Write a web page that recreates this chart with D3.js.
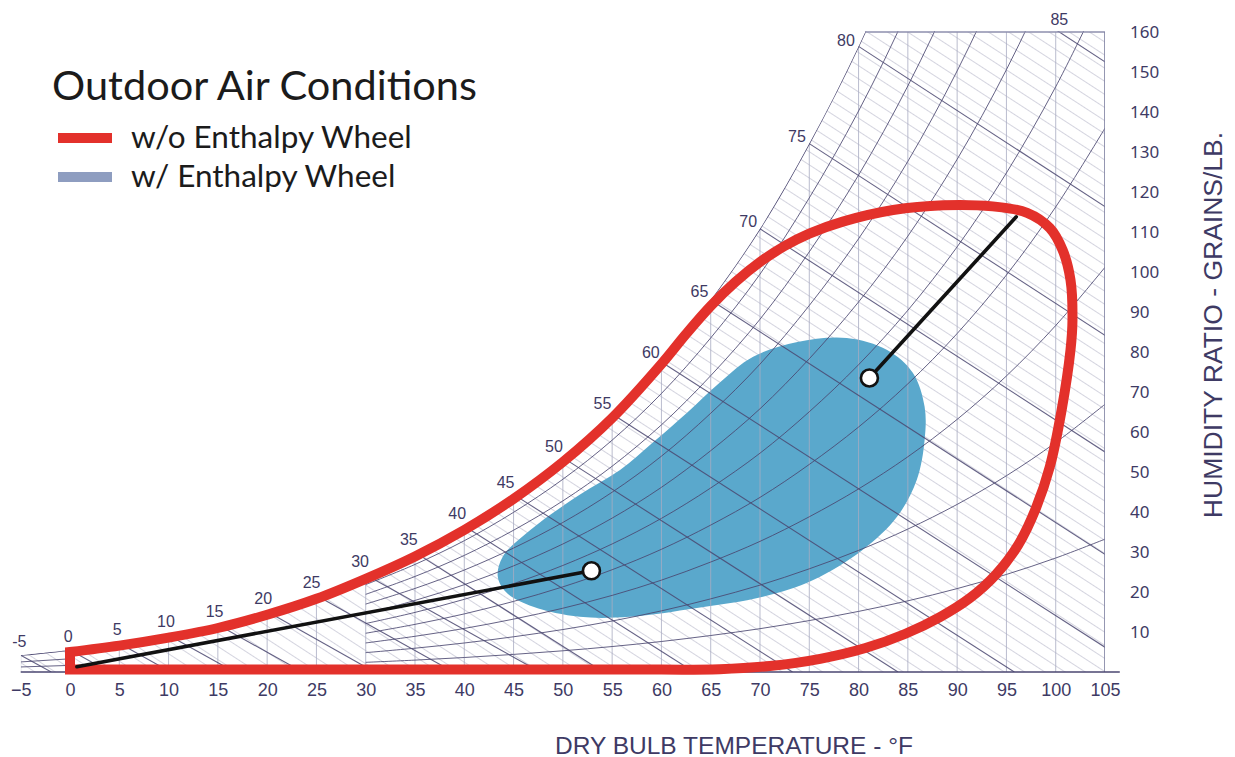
<!DOCTYPE html>
<html>
<head>
<meta charset="utf-8">
<script src="https://cdn.jsdelivr.net/npm/d3@7"></script>
<style>
  body { margin: 0; background: #fff; }
  svg { display: block; }
</style>
</head>
<body>
<div id="chart"></div>
<script>
// Psychrometric chart – outdoor air conditions with / without enthalpy wheel

/* ── Axis ticks ── */
const DB_TICKS = [-5, 0, 5, 10, 15, 20, 25, 30, 35, 40, 45, 50, 55, 60, 65, 70, 75, 80, 85, 90, 95, 100, 105];
const W_TICKS  = [10, 20, 30, 40, 50, 60, 70, 80, 90, 100, 110, 120, 130, 140, 150, 160];

/* ── Saturation humidity ratio (grains/lb) at each dry bulb ── */
const SAT_T = [-5, 0, 5, 10, 15, 20, 25, 30, 35, 40, 45, 50, 55, 60, 65, 70, 75, 80, 85, 90, 95, 100, 105];
const SAT_W = [4.2, 5.5, 7.2, 9.2, 11.8, 15.1, 19.1, 24.3, 29.9, 36.5, 44.4, 53.6, 64.5, 77.5, 93.0, 110.8, 132.1, 156.4, 184.7, 217.9, 256.9, 302.8, 356.6];

/* ── Wet bulb lines: wet bulb temp and dry bulb where the line meets 0 grains ── */
const WB_T       = [-5, 0, 5, 10, 15, 20, 25, 30, 35, 40, 45, 50, 55, 60, 65, 70, 75, 80, 85];
const WB_ZERO_DB = [-1.9, 4.0, 10.2, 16.7, 23.6, 30.9, 38.9, 47.7, 54.1, 63.3, 73.3, 84.0, 95.8, 108.9, 123.5, 139.5, 157.7, 177.6, 199.9];
const WB_LABELS  = [-5, 0, 5, 10, 15, 20, 25, 30, 35, 40, 45, 50, 55, 60, 65, 70, 75, 80, 85];

/* ── Relative humidity curves (%) ── */
const RH_LEVELS       = [10, 20, 30, 40, 50, 60, 70, 80, 90];
const RH_INSET_LEVELS = [30, 60];

/* ── Outdoor air envelopes [dry bulb °F, grains/lb] ── */
const RED_CONTOUR = [
  [0, 0.6], [0, 5.0], [5, 6.6], [10, 8.6], [15, 11.0], [20, 14.3], [25, 18.3], [30, 23.3],
  [35, 28.9], [40, 35.5], [45, 43.3], [50, 52.5], [55, 63.5], [60, 77], [62.5, 84.5], [65, 91.5],
  [67.5, 97.5], [70, 102.5], [72.5, 106.5], [75, 109.6], [78.4, 112.6], [83.5, 115.5], [88.6, 116.7],
  [93.6, 116.4], [97.1, 114.8], [99.4, 111], [100.7, 105.5], [101.5, 98], [101.7, 88], [101.5, 80.5],
  [100.6, 65.5], [99.4, 51.3], [98.0, 41], [96.2, 31.8], [93.9, 24.3], [91.3, 18.5], [88.3, 13.8],
  [84.7, 9.5], [80.7, 6], [76.1, 3.3], [71.0, 1.5], [65.9, 0.7], [60, 0.6]
];
const BLUE_CONTOUR = [
  [43.4, 23.8], [43.9, 28.8], [46.7, 35.5], [51.7, 44.3], [55.8, 50.5], [59.1, 57.3], [62.6, 64.8],
  [65.9, 72.3], [69.3, 78.8], [73.8, 82.5], [78.8, 83.5], [82.9, 80.5], [85.5, 74.8], [86.7, 66.3],
  [86.7, 58], [85.9, 48], [83.9, 38.8], [80.4, 30.5], [75.4, 23], [70.3, 18.8], [63.6, 16],
  [56.8, 13.8], [51.7, 13.8], [47.0, 16.3], [44.3, 19.8]
];
const LEADERS = [
  { from: [0.7, 1.3], to: [52.9, 25.3] },
  { from: [81.1, 73.5], to: [96.0, 113.8] }
];
const DOTS = [[52.9, 25.3], [81.1, 73.5]];

const TITLE = "Outdoor Air Conditions";
const LEGEND = [
  { label: "w/o Enthalpy Wheel", color: "#e3312b" },
  { label: "w/ Enthalpy Wheel",  color: "#8e9dc0" }
];

/* ── Layout ── */
const totalW = 1235, totalH = 757;
const INK = "#3e3a64", GRID = "#4a4670";

const x = d3.scaleLinear().domain([0, 105]).range([70, 1105]);
const y = d3.scaleLinear().domain([0, 160]).range([672, 32]);

const svg = d3.select("#chart").append("svg")
  .attr("width", totalW).attr("height", totalH)
  .attr("viewBox", `0 0 ${totalW} ${totalH}`);
const defs = svg.append("defs");

const satPts = SAT_T.map((t, i) => [t, SAT_W[i]]);
const satAt = t => SAT_W[SAT_T.indexOf(t)];

/* ── Clips: chart box and area below saturation ── */
defs.append("clipPath").attr("id", "box").append("rect")
  .attr("x", x(-5)).attr("y", y(160) - 1)
  .attr("width", x(105) - x(-5) + 1).attr("height", y(0) - y(160) + 1);
const satArea = d3.area().x(d => x(d[0])).y0(y(0)).y1(d => y(d[1])).curve(d3.curveCatmullRom);
defs.append("clipPath").attr("id", "under-sat").append("path").attr("d", satArea(satPts));

defs.append("pattern").attr("id", "hatch")
  .attr("patternUnits", "userSpaceOnUse").attr("width", 11).attr("height", 11)
  .attr("patternTransform", "rotate(-57)")
  .append("line").attr("x1", 5.5).attr("y1", 0).attr("x2", 5.5).attr("y2", 11)
  .attr("stroke", "#d4d4df").attr("stroke-width", 1);

const clipped = () => svg.append("g").attr("clip-path", "url(#box)")
  .append("g").attr("clip-path", "url(#under-sat)");

/* ── Hatching ── */
clipped().append("rect")
  .attr("x", x(-5)).attr("y", y(160)).attr("width", x(105) - x(-5)).attr("height", y(0) - y(160))
  .attr("fill", "url(#hatch)");

/* ── Blue envelope (w/ wheel) ── */
svg.append("path")
  .attr("d", d3.line().x(d => x(d[0])).y(d => y(d[1])).curve(d3.curveCatmullRomClosed)(BLUE_CONTOUR))
  .attr("fill", "#5aa8cc");

/* ── Grid lines ── */
const grid = clipped();

grid.selectAll("line.db").data(DB_TICKS).join("line").attr("class", "db")
  .attr("x1", d => x(d)).attr("x2", d => x(d)).attr("y1", y(0)).attr("y2", y(160))
  .attr("stroke", "#a9abc2").attr("stroke-width", 1).attr("stroke-opacity", 0.8);

const P = 14.696;
const rhW = (t, rh) => {
  const w = satAt(t) / 7000;
  const pws = P * w / (0.622 + w);
  const pv = pws * rh / 100;
  return 7000 * 0.622 * pv / (P - pv);
};
const rhLine = d3.line().x(d => x(d[0])).y(d => y(d[1])).curve(d3.curveCatmullRom);
const drawRh = (levels, a, b) => levels.forEach(rh => {
  const pts = SAT_T.filter(t => t >= a && t <= b).map(t => [t, rhW(t, rh)]);
  grid.append("path").attr("d", rhLine(pts))
    .attr("fill", "none").attr("stroke", GRID).attr("stroke-width", 1).attr("stroke-opacity", 0.85);
});
drawRh(RH_LEVELS, 30, 105);
drawRh(RH_INSET_LEVELS, -5, 0);

grid.selectAll("line.wb").data(WB_T).join("line").attr("class", "wb")
  .attr("x1", d => x(d)).attr("y1", d => y(satAt(d)))
  .attr("x2", (d, i) => x(WB_ZERO_DB[i])).attr("y2", y(0))
  .attr("stroke", GRID).attr("stroke-width", 1.1).attr("stroke-opacity", 0.85);

// chart boundaries
grid.append("path").attr("d", rhLine(satPts))
  .attr("fill", "none").attr("stroke", GRID).attr("stroke-width", 1.3);
grid.append("line").attr("x1", x(-5)).attr("x2", x(105)).attr("y1", y(160)).attr("y2", y(160))
  .attr("stroke", "#8e8fae").attr("stroke-width", 1.3);
grid.append("line").attr("x1", x(105)).attr("x2", x(105)).attr("y1", y(0)).attr("y2", y(160))
  .attr("stroke", "#7e7fa0").attr("stroke-width", 1.5);

svg.append("line").attr("x1", x(-5)).attr("x2", x(106.5)).attr("y1", y(0)).attr("y2", y(0))
  .attr("stroke", GRID).attr("stroke-width", 1.6);

/* ── Red envelope (w/o wheel) ── */
const redCurve = d3.line().x(d => x(d[0])).y(d => y(d[1])).curve(d3.curveCatmullRom.alpha(0.5));
const c0 = RED_CONTOUR[0];
svg.append("path")
  .attr("d", `M${x(c0[0])},${y(c0[1])}` + redCurve(RED_CONTOUR.slice(1)).replace(/^M/, "L") + "Z")
  .attr("fill", "none").attr("stroke", "#e3312b").attr("stroke-width", 10)
  .attr("stroke-linejoin", "miter");

/* ── Leaders and dots ── */
svg.selectAll("line.leader").data(LEADERS).join("line").attr("class", "leader")
  .attr("x1", d => x(d.from[0])).attr("y1", d => y(d.from[1]))
  .attr("x2", d => x(d.to[0])).attr("y2", d => y(d.to[1]))
  .attr("stroke", "#111").attr("stroke-width", 3.6).attr("stroke-linecap", "round");
svg.selectAll("circle.dot").data(DOTS).join("circle").attr("class", "dot")
  .attr("cx", d => x(d[0])).attr("cy", d => y(d[1])).attr("r", 8.5)
  .attr("fill", "#fff").attr("stroke", "#111").attr("stroke-width", 2.6);

/* ── Saturation / wet bulb labels ── */
const labelG = svg.append("g")
  .attr("font-family", "Liberation Sans, Arial, sans-serif").attr("font-size", 16).attr("fill", INK)
  .attr("text-anchor", "middle").attr("dominant-baseline", "central");
WB_LABELS.forEach(t => {
  let px, py;
  const i = SAT_T.indexOf(t);
  if (satAt(t) <= 160) {
    const a = SAT_T[Math.max(i - 1, 0)], b = SAT_T[i + 1];
    const dx = x(b) - x(a), dy = y(satAt(b)) - y(satAt(a));
    const len = Math.hypot(dx, dy);
    px = x(t) + 14 * dy / len;
    py = y(satAt(t)) - 14 * dx / len;
  } else {
    const k = WB_T.indexOf(t);
    const tTop = t + (WB_ZERO_DB[k] - t) * (satAt(t) - 160) / satAt(t);
    px = x(tTop); py = y(160) - 13;
  }
  labelG.append("text").attr("x", px).attr("y", py).text(t);
});

/* ── Axes ── */
svg.append("g").attr("transform", `translate(0,${y(0)})`)
  .call(d3.axisBottom(x).tickValues(DB_TICKS).tickSize(0).tickPadding(11).tickFormat(d3.format("d")))
  .call(ax => ax.select(".domain").remove())
  .selectAll("text").attr("font-size", 18).attr("fill", INK)
  .attr("font-family", "Liberation Sans, Arial, sans-serif");

svg.append("g").attr("transform", `translate(${x(105)},0)`)
  .call(d3.axisRight(y).tickValues(W_TICKS).tickSize(0).tickPadding(25))
  .call(ax => ax.select(".domain").remove())
  .selectAll("text").attr("font-size", 17).attr("fill", INK)
  .attr("font-family", "Noto Sans, sans-serif");

svg.append("text")
  .attr("x", 734).attr("y", 745).attr("text-anchor", "middle").attr("dominant-baseline", "central")
  .attr("font-family", "Liberation Sans, Arial, sans-serif").attr("font-size", 24.5).attr("fill", INK)
  .text("DRY BULB TEMPERATURE - °F");

svg.append("text")
  .attr("transform", "translate(1213,325) rotate(-90)")
  .attr("text-anchor", "middle").attr("dominant-baseline", "central")
  .attr("font-family", "Liberation Sans, Arial, sans-serif").attr("font-size", 26.5).attr("fill", INK)
  .text("HUMIDITY RATIO - GRAINS/LB.");

/* ── Legend ── */
const legend = svg.append("g").attr("font-family", "Lato, Noto Sans, sans-serif").attr("fill", "#1b1b1b");
legend.append("text").attr("x", 52).attr("y", 100).attr("font-size", 41.5).text(TITLE);
LEGEND.forEach((d, i) => {
  const yy = 138 + i * 39;
  legend.append("line").attr("x1", 58).attr("x2", 112).attr("y1", yy).attr("y2", yy)
    .attr("stroke", d.color).attr("stroke-width", 10);
  legend.append("text").attr("x", 131).attr("y", yy + 10).attr("font-size", 31.5).text(d.label);
});
</script>
</body>
</html>
